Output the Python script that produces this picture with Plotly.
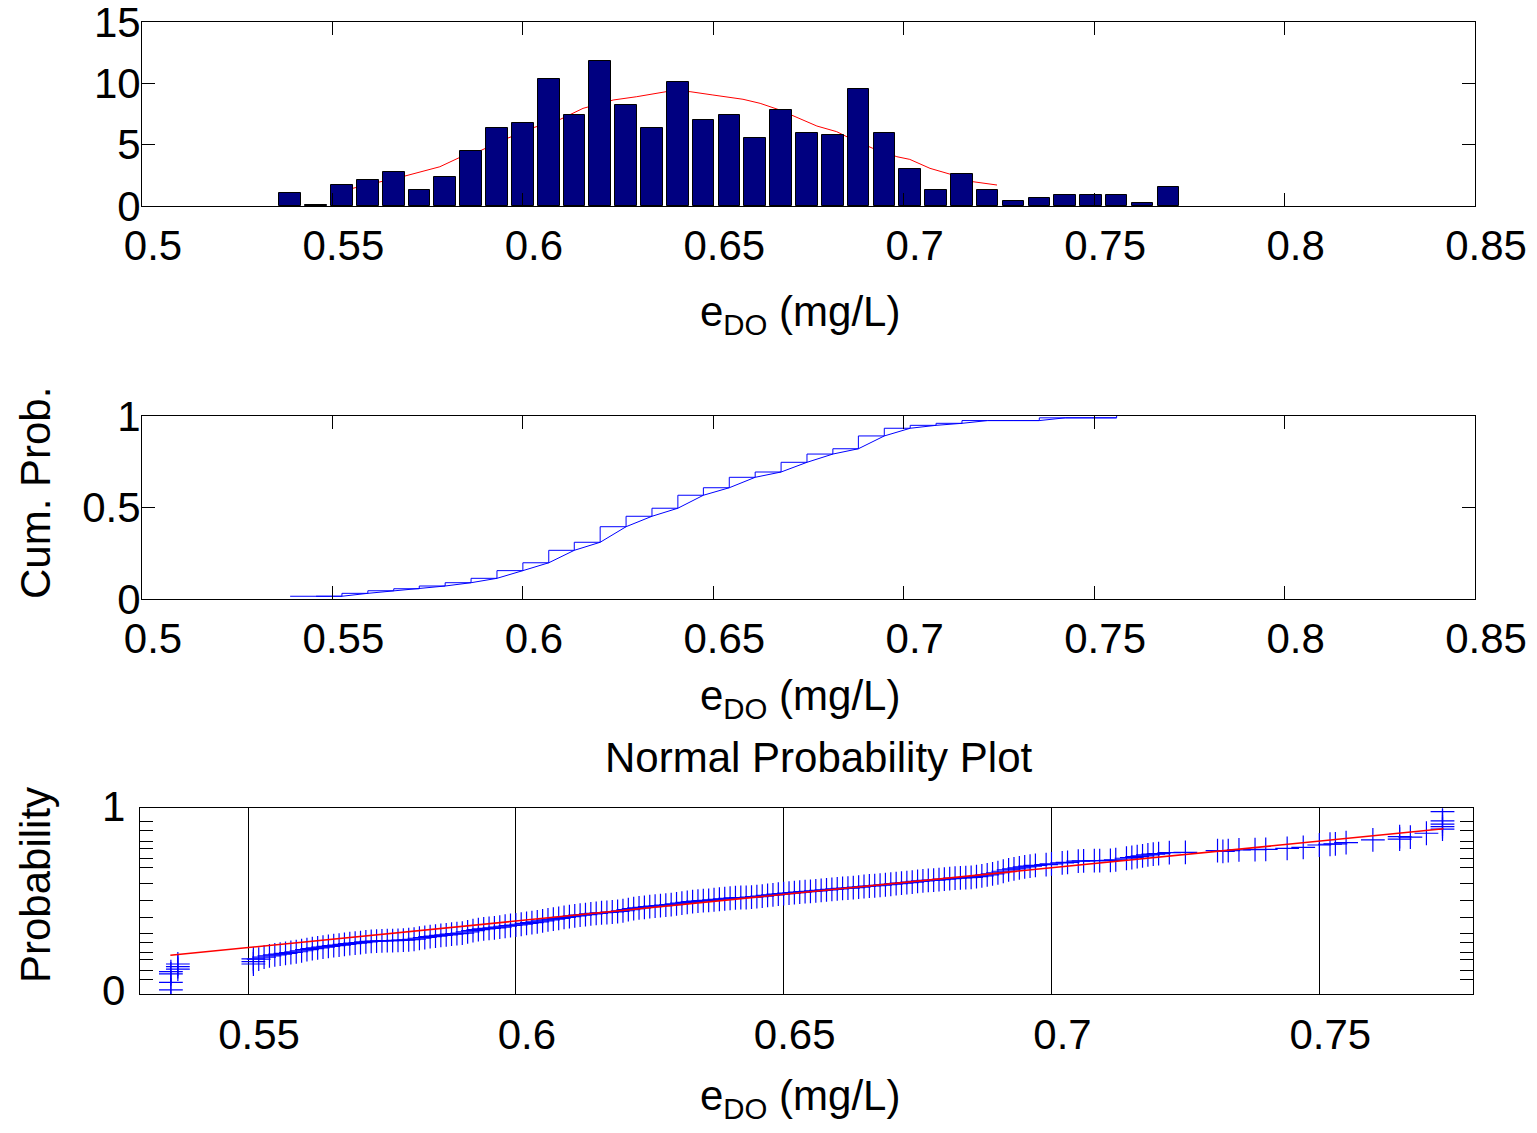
import plotly.graph_objects as go
from statistics import NormalDist

# ---------------- data ----------------
# Histogram of e_DO (top panel)
hist_centers = [0.5389, 0.5457, 0.5525, 0.5593, 0.5661, 0.5728, 0.5796, 0.5864, 0.5932, 0.6000,
                0.6068, 0.6135, 0.6203, 0.6271, 0.6339, 0.6407, 0.6474, 0.6542, 0.6610, 0.6678,
                0.6746, 0.6814, 0.6881, 0.6949, 0.7017, 0.7085, 0.7153, 0.7220, 0.7288, 0.7356,
                0.7424, 0.7492, 0.7559, 0.7627, 0.7695]
hist_heights = [1.08, 0.12, 1.74, 2.15, 2.74, 1.28, 2.36, 4.48, 6.38, 6.79,
                10.38, 7.39, 11.84, 8.23, 6.38, 10.13, 6.98, 7.39, 5.52, 7.82,
                5.95, 5.76, 9.56, 5.95, 2.99, 1.28, 2.58, 1.28, 0.43, 0.68,
                0.87, 0.87, 0.87, 0.22, 1.52]

# Smoothed density curve (red, top panel)
curve_x = [0.5525, 0.5553, 0.5690, 0.5782, 0.5835, 0.5892, 0.5958, 0.6029, 0.6098, 0.6158,
           0.6237, 0.6299, 0.6386, 0.6439, 0.6499, 0.6578, 0.6623, 0.6675, 0.6772, 0.6824,
           0.6859, 0.6919, 0.6982, 0.7016, 0.7069, 0.7129, 0.7182, 0.7245]
curve_y = [1.25, 1.44, 2.44, 3.20, 3.97, 4.56, 5.50, 6.40, 7.06, 7.96,
           8.64, 8.91, 9.37, 9.32, 9.05, 8.70, 8.37, 7.82, 6.52, 6.06,
           5.52, 4.70, 4.02, 3.80, 3.07, 2.53, 1.98, 1.71]

# Cumulative probability (middle panel)
cdf_x = [0.5389, 0.5457, 0.5525, 0.5593, 0.5661, 0.5728, 0.5796, 0.5864, 0.5932, 0.6000,
         0.6068, 0.6135, 0.6203, 0.6271, 0.6339, 0.6407, 0.6474, 0.6542, 0.6610, 0.6678,
         0.6746, 0.6814, 0.6881, 0.6949, 0.7017, 0.7085, 0.7153, 0.7220, 0.7288, 0.7356,
         0.7424, 0.7492, 0.7559]
cdf_p = [0.015, 0.015, 0.031, 0.045, 0.056, 0.071, 0.089, 0.113, 0.155, 0.198,
         0.266, 0.310, 0.395, 0.452, 0.496, 0.567, 0.608, 0.665, 0.694, 0.747,
         0.792, 0.821, 0.891, 0.933, 0.949, 0.960, 0.975, 0.975, 0.975, 0.990,
         0.990, 0.990, 1.000]

# Normal probability plot (bottom panel): sorted values and their normal scores
npp_x = [0.5356, 0.5356, 0.5356, 0.5356, 0.5369, 0.5369, 0.5369,
         0.551, 0.551, 0.551,
         0.552, 0.553, 0.554, 0.555, 0.556, 0.557, 0.558, 0.559, 0.560, 0.561,
         0.562, 0.563, 0.564, 0.565, 0.566, 0.567, 0.568, 0.569, 0.570, 0.571,
         0.572, 0.573, 0.574, 0.575, 0.576, 0.577, 0.578, 0.579, 0.580, 0.581,
         0.582, 0.583, 0.584, 0.585, 0.586, 0.587, 0.588, 0.589, 0.590, 0.591,
         0.592, 0.593, 0.594, 0.595, 0.596, 0.597, 0.598, 0.599, 0.600, 0.601,
         0.602, 0.603, 0.604, 0.605, 0.606, 0.607, 0.608, 0.609, 0.610, 0.611,
         0.612, 0.613, 0.614, 0.615, 0.616, 0.617, 0.618, 0.619, 0.620, 0.621,
         0.622, 0.623, 0.624, 0.625, 0.626, 0.627, 0.628, 0.629, 0.630, 0.631,
         0.632, 0.633, 0.634, 0.635, 0.636, 0.637, 0.638, 0.639, 0.640, 0.641,
         0.642, 0.643, 0.644, 0.645, 0.646, 0.647, 0.648, 0.649, 0.650, 0.651,
         0.652, 0.653, 0.654, 0.655, 0.656, 0.657, 0.658, 0.659, 0.660, 0.661,
         0.662, 0.663, 0.664, 0.665, 0.666, 0.667, 0.668, 0.669, 0.670, 0.671,
         0.672, 0.673, 0.674, 0.675, 0.676, 0.677, 0.678, 0.679, 0.680, 0.681,
         0.682, 0.683, 0.684, 0.685, 0.686, 0.687, 0.688, 0.689, 0.690, 0.691,
         0.692, 0.693, 0.694, 0.695, 0.696, 0.697, 0.699, 0.700, 0.702, 0.703,
         0.705, 0.706, 0.708, 0.709, 0.711, 0.712, 0.714, 0.715, 0.716, 0.717,
         0.718, 0.719, 0.720, 0.722, 0.725, 0.731, 0.732, 0.733, 0.735, 0.738,
         0.740, 0.744, 0.747, 0.750, 0.752, 0.753, 0.755, 0.760, 0.765, 0.765,
         0.767, 0.770, 0.773, 0.773, 0.773, 0.773, 0.773]
npp_z = [-3.51, -3.21, -2.88, -2.79, -2.69, -2.59, -2.49,
         -2.29, -2.40, -2.49,
         -2.30, -2.22, -2.17, -2.13, -2.10, -2.07, -2.04, -2.01, -1.97, -1.93,
         -1.89, -1.86, -1.83, -1.80, -1.77, -1.75, -1.72, -1.69, -1.67, -1.65,
         -1.62, -1.60, -1.59, -1.58, -1.57, -1.57, -1.56, -1.55, -1.54, -1.52,
         -1.48, -1.45, -1.42, -1.40, -1.37, -1.35, -1.32, -1.30, -1.28, -1.23,
         -1.18, -1.14, -1.11, -1.09, -1.07, -1.04, -1.01, -0.98, -0.96, -0.93,
         -0.90, -0.87, -0.84, -0.80, -0.76, -0.73, -0.70, -0.66, -0.63, -0.60,
         -0.57, -0.55, -0.52, -0.50, -0.48, -0.47, -0.45, -0.43, -0.40, -0.36,
         -0.32, -0.29, -0.27, -0.24, -0.22, -0.20, -0.18, -0.16, -0.13, -0.10,
         -0.07, -0.04, -0.02, 0.00, 0.01, 0.03, 0.05, 0.07, 0.09, 0.11,
         0.12, 0.12, 0.13, 0.15, 0.17, 0.20, 0.22, 0.25, 0.27, 0.29,
         0.31, 0.33, 0.35, 0.36, 0.38, 0.40, 0.42, 0.44, 0.46, 0.48,
         0.49, 0.51, 0.53, 0.55, 0.57, 0.58, 0.60, 0.62, 0.64, 0.66,
         0.68, 0.70, 0.72, 0.75, 0.77, 0.79, 0.80, 0.82, 0.84, 0.86,
         0.88, 0.89, 0.90, 0.91, 0.94, 0.97, 1.01, 1.05, 1.09, 1.15,
         1.20, 1.24, 1.28, 1.32, 1.35, 1.38, 1.41, 1.44, 1.48, 1.50,
         1.55, 1.56, 1.57, 1.57, 1.58, 1.60, 1.66, 1.69, 1.72, 1.75,
         1.79, 1.82, 1.84, 1.88, 1.89, 1.96, 1.93, 1.96, 1.99, 2.00,
         2.01, 2.05, 2.09, 2.18, 2.21, 2.22, 2.27, 2.38, 2.41, 2.51,
         2.49, 2.64, 2.80, 2.90, 3.00, 3.13, 3.49]

# Reference (fit) line of the normal probability plot
ref_x = [0.5355, 0.7732]
ref_z = [-2.15, 2.815]

# Probability tick marks of the normal-probability axis
prob_ticks = [0.001, 0.003, 0.01, 0.02, 0.05, 0.10, 0.25, 0.50, 0.75, 0.90, 0.95, 0.98, 0.99, 0.997, 0.999]

x_ticks_top = [0.5, 0.55, 0.6, 0.65, 0.7, 0.75, 0.8, 0.85]
x_ticks_top_text = ["0.5", "0.55", "0.6", "0.65", "0.7", "0.75", "0.8", "0.85"]
y_ticks_hist = [0, 5, 10, 15]
y_ticks_cdf = [0, 0.5, 1]
y_ticks_cdf_text = ["0", "0.5", "1"]
x_ticks_npp = [0.55, 0.6, 0.65, 0.7, 0.75]
x_ticks_npp_text = ["0.55", "0.6", "0.65", "0.7", "0.75"]

# ---------------- layout helpers ----------------
W, H = 1521, 1117          # figure size (page has 8px body margin)
OFF = 8


def px(x):
    return (x - OFF) / W


def py(y):
    return 1 - (y - OFF) / H


FONT = "Liberation Sans, Arial, Helvetica, sans-serif"
FS = 42
nd = NormalDist()
prob_tick_z = [nd.inv_cdf(p) for p in prob_ticks]

fig = go.Figure()

# top panel: red smooth curve behind bars
fig.add_trace(go.Scatter(x=curve_x, y=curve_y, mode="lines",
                         line=dict(color="#FF0000", width=1), xaxis="x", yaxis="y",
                         showlegend=False, hoverinfo="skip"))
fig.add_trace(go.Bar(x=hist_centers, y=hist_heights, width=0.00565,
                     marker=dict(color="#000080", line=dict(color="black", width=1)),
                     xaxis="x", yaxis="y4", showlegend=False))

# middle panel: empirical cdf stairs + connecting line
fig.add_trace(go.Scatter(x=cdf_x, y=cdf_p, mode="lines",
                         line=dict(color="#0000FF", width=1, shape="hv"),
                         xaxis="x2", yaxis="y2", showlegend=False))
fig.add_trace(go.Scatter(x=cdf_x[1:], y=cdf_p[:-1], mode="lines",
                         line=dict(color="#0000FF", width=1),
                         xaxis="x2", yaxis="y2", showlegend=False))

# bottom panel: normal probability plot
fig.add_trace(go.Scatter(x=npp_x, y=npp_z, mode="markers",
                         marker=dict(symbol="cross-thin", size=17,
                                     line=dict(color="#0000FF", width=1.2)),
                         xaxis="x3", yaxis="y3", showlegend=False))
fig.add_trace(go.Scatter(x=ref_x, y=ref_z, mode="lines",
                         line=dict(color="#FF0000", width=1.6),
                         xaxis="x3", yaxis="y3", showlegend=False))

common = dict(showline=True, linecolor="black", linewidth=1, mirror="ticks",
              ticks="inside", ticklen=13, tickcolor="black", tickwidth=1,
              showgrid=False, zeroline=False, automargin=False,
              tickfont=dict(family=FONT, size=FS, color="black"))
xcommon = dict(ticklabelstandoff=3, ticklabelshift=11)
ycommon = dict(ticklabelstandoff=-8, ticklabeloverflow="allow")

xdom = [px(142), px(1475)]
fig.update_layout(
    template="none",
    width=W, height=H,
    autosize=False,
    margin=dict(l=0, r=0, t=0, b=0, pad=0),
    paper_bgcolor="white", plot_bgcolor="white",
    font=dict(family=FONT, size=FS, color="black"),
    bargap=0,
    xaxis=dict(domain=xdom, range=[0.5, 0.85], tickvals=x_ticks_top, ticktext=x_ticks_top_text,
               anchor="y", **xcommon, **common),
    yaxis=dict(domain=[py(206), py(22)], range=[0, 15], tickvals=y_ticks_hist,
               anchor="x", **ycommon, **common),
    yaxis4=dict(overlaying="y", range=[0, 15], visible=False, anchor="x", automargin=False),
    xaxis2=dict(domain=xdom, range=[0.5, 0.85], tickvals=x_ticks_top, ticktext=x_ticks_top_text,
                anchor="y2", **xcommon, **common),
    yaxis2=dict(domain=[py(599), py(416)], range=[0, 1], tickvals=y_ticks_cdf,
                ticktext=y_ticks_cdf_text, anchor="x2", **ycommon, **common),
    xaxis3=dict(domain=[px(139.5), px(1473.3)], range=[0.52974, 0.77875],
                tickvals=x_ticks_npp, ticktext=x_ticks_npp_text, anchor="y3",
                **xcommon, **{**common, "showgrid": True}, gridcolor="black", gridwidth=1),
    yaxis3=dict(domain=[py(994.3), py(808.3)], range=[-3.68, 3.62],
                tickvals=prob_tick_z, showticklabels=False, anchor="x3", **common),
)

ann = [
    dict(text="e<sub>DO</sub> (mg/L)", x=px(800), y=py(314)),
    dict(text="e<sub>DO</sub> (mg/L)", x=px(800), y=py(699)),
    dict(text="e<sub>DO</sub> (mg/L)", x=px(800), y=py(1098)),
    dict(text="Normal Probability Plot", x=px(818), y=py(757)),
    dict(text="Cum. Prob.", x=px(35), y=py(493), textangle=-90),
    dict(text="Probability", x=px(35), y=py(885), textangle=-90),
]
for a in ann:
    fig.add_annotation(xref="paper", yref="paper", showarrow=False,
                       xanchor="center", yanchor="middle",
                       font=dict(family=FONT, size=FS, color="black"), **a)
for txt, yy in [("1", 806), ("0", 990)]:
    fig.add_annotation(xref="paper", yref="paper", showarrow=False, text=txt,
                       x=px(127), y=py(yy), xanchor="right", yanchor="middle",
                       font=dict(family=FONT, size=FS, color="black"))

fig.write_html("out.html")
